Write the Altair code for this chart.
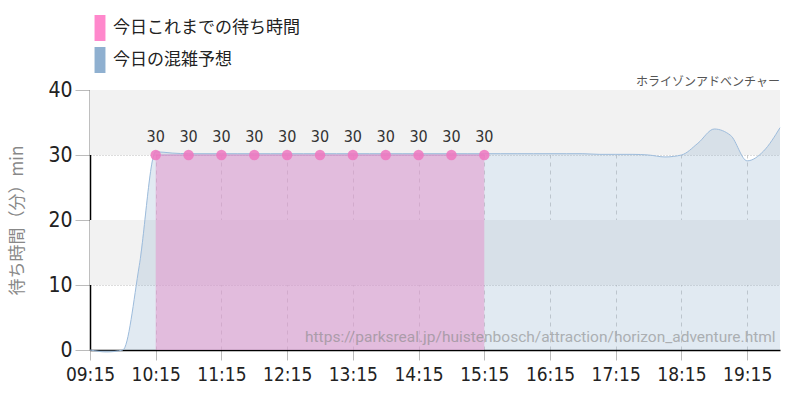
import altair as alt
import pandas as pd

# forecast (今日の混雑予想), 15-minute steps
fc_times = ["09:15", "09:30", "09:45", "10:00", "10:15", "10:30", "10:45", "11:00",
            "11:15", "11:30", "11:45", "12:00", "12:15", "12:30", "12:45", "13:00",
            "13:15", "13:30", "13:45", "14:00", "14:15", "14:30", "14:45", "15:00",
            "15:15", "15:30", "15:45", "16:00", "16:15", "16:30", "16:45", "17:00",
            "17:15", "17:30", "17:45", "18:00", "18:15", "18:30", "18:45", "19:00",
            "19:15", "19:30", "19:45"]
fc_values = [0, -0.3, 0, 13, 30.5, 30.3, 30.2, 30.2,
             30.2, 30.2, 30.2, 30.2, 30.2, 30.2, 30.2, 30.2,
             30.2, 30.2, 30.2, 30.2, 30.2, 30.2, 30.2, 30.2,
             30.2, 30.2, 30.2, 30.2, 30.2, 30.2, 30.2, 30.1,
             30.1, 30.1, 30.0, 29.7, 30.0, 31.8, 34.0, 33.0,
             29.1, 30.6, 34.2]

# actual waits so far (今日これまでの待ち時間), 30-minute steps
act_times = ["10:15", "10:45", "11:15", "11:45", "12:15", "12:45",
             "13:15", "13:45", "14:15", "14:45", "15:15"]
act_values = [30, 30, 30, 30, 30, 30, 30, 30, 30, 30, 30]

series_names = ["今日これまでの待ち時間", "今日の混雑予想"]
series_colors = ["#ff88cc", "#8fb0d0"]

band_lo = [10, 30]
band_hi = [20, 40]

grid_times = ["09:15", "09:45", "10:15", "10:45", "11:15", "11:45", "12:15", "12:45",
              "13:15", "13:45", "14:15", "14:45", "15:15", "15:45", "16:15", "16:45",
              "17:15", "17:45", "18:15", "18:45", "19:15", "19:45"]

title_text = "ホライゾンアドベンチャー"
y_title = "待ち時間（分）min"
source_text = "https://parksreal.jp/huistenbosch/attraction/horizon_adventure.html"
source_time = "19:41"
source_value = 1.2

DAY = "2024-01-01T"


def ts(t):
    return DAY + t + ":00"


def dt(t):
    h, m = t.split(":")
    return alt.DateTime(year=2024, month=1, date=1, hours=int(h), minutes=int(m))


fc_df = pd.DataFrame({"t": [ts(t) for t in fc_times], "v": fc_values})
act_df = pd.DataFrame({"t": [ts(t) for t in act_times], "v": act_values})
band_df = pd.DataFrame({"lo": band_lo, "hi": band_hi})
legend_df = pd.DataFrame({"s": series_names})
src_df = pd.DataFrame({"t": [ts(source_time)], "v": [source_value], "label": [source_text]})

NUMFONT = "'DejaVu Sans Condensed', 'Liberation Sans Narrow', Roboto, sans-serif"
JPFONT = "Noto Sans CJK JP"

x_scale = alt.Scale(domain=[dt("09:15"), dt("19:45")])
y_scale = alt.Scale(domain=[0, 40], nice=False)

x_axis = alt.Axis(
    values=[dt(t) for t in grid_times],
    labelExpr="minutes(datum.value) == 15 ? timeFormat(datum.value, '%H:%M') : ''",
    tickOpacity={"condition": {"test": "minutes(datum.value) == 15", "value": 1}, "value": 0},
    labelOverlap=False, labelFlush=False,
    grid=True, gridDash=[4, 4], gridColor="#cccccc", gridWidth=1,
    domainColor="#000000", domainWidth=1.5,
    tickColor="#bbbbbb", tickSize=10,
    labelFont=NUMFONT, labelFontSize=19, labelColor="#222222", labelPadding=5,
    title=None,
)
y_axis = alt.Axis(
    values=[0, 10, 20, 30, 40],
    grid=True, gridDash=[1, 2], gridColor="#bbbbbb",
    domainColor="#000000", domainWidth=1.5,
    tickColor="#bbbbbb", tickSize=15,
    labelFont=NUMFONT, labelFontSize=21, labelColor="#222222", labelPadding=3,
    title=y_title, titleFont=JPFONT, titleFontSize=17, titleFontWeight="normal",
    titleColor="#888888", titlePadding=21,
)

bands = alt.Chart(band_df).mark_rect(color="#f2f2f2").encode(
    y=alt.Y("lo:Q", scale=y_scale, axis=y_axis),
    y2="hi:Q",
)

fc_area = alt.Chart(fc_df).mark_area(
    interpolate="monotone", color="#8fb0d0", fillOpacity=0.27,
    line={"color": "#9dbcdc", "strokeWidth": 1},
).encode(
    x=alt.X("t:T", scale=x_scale, axis=x_axis),
    y=alt.Y("v:Q", scale=y_scale),
)

act_area = alt.Chart(act_df).mark_area(
    color="#e496cc", fillOpacity=0.55,
    line={"color": "#c690c8", "strokeWidth": 1},
).encode(
    x=alt.X("t:T", scale=x_scale),
    y=alt.Y("v:Q", scale=y_scale),
)

act_points = alt.Chart(act_df).mark_circle(size=110, color="#ee77c0", opacity=0.85).encode(
    x=alt.X("t:T", scale=x_scale),
    y=alt.Y("v:Q", scale=y_scale),
)

act_labels = alt.Chart(act_df).mark_text(
    font=NUMFONT, fontSize=16, color="#333333", baseline="bottom", dy=-10,
).encode(
    x=alt.X("t:T", scale=x_scale),
    y=alt.Y("v:Q", scale=y_scale),
    text=alt.Text("v:Q"),
)

source = alt.Chart(src_df).mark_text(
    font="Roboto", fontSize=15.5, color="#888888", opacity=0.6, align="right", baseline="alphabetic",
).encode(
    x=alt.X("t:T", scale=x_scale),
    y=alt.Y("v:Q", scale=y_scale),
    text="label:N",
)

legend_layer = alt.Chart(legend_df).mark_square(opacity=0, filled=True).encode(
    color=alt.Color(
        "s:N",
        scale=alt.Scale(domain=series_names, range=series_colors),
        legend=alt.Legend(
            title=None, orient="none", legendX=-3, legendY=-75,
            symbolType="M-0.42,-1H0.42V1H-0.42Z", symbolSize=676, symbolOpacity=1,
            symbolStrokeWidth=0, symbolOffset=0, padding=0, rowPadding=6,
            labelFont=JPFONT, labelFontSize=17, labelColor="#222222", labelOffset=0,
            labelLimit=400,
        ),
    ),
)

chart = alt.layer(
    bands, fc_area, act_area, act_points, act_labels, source, legend_layer
).properties(
    width=690, height=260,
    autosize="none",
    padding={"left": 90, "top": 90, "right": 20, "bottom": 50},
    title=alt.TitleParams(
        title_text, anchor="end", frame="group", font=JPFONT, fontSize=12,
        fontWeight="normal", color="#555555", offset=6, dy=80,
    ),
).configure_view(stroke=None)

chart.save("out.html", embed_options={"renderer": "svg", "actions": False})
